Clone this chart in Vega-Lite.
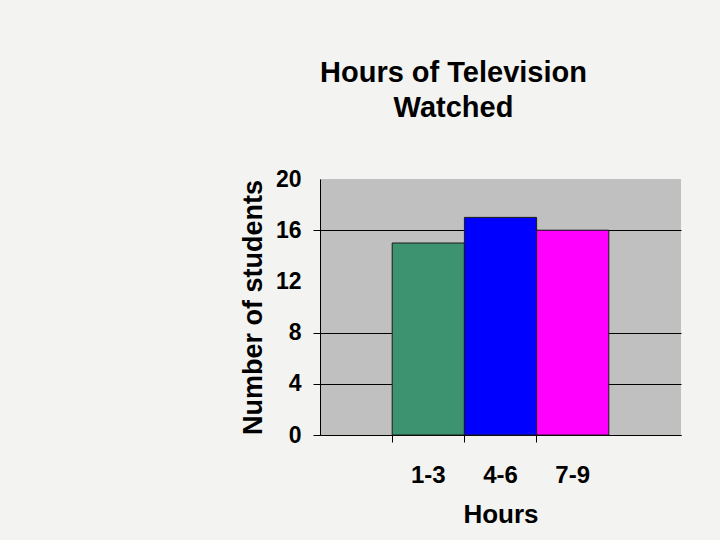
{
  "$schema": "https://vega.github.io/schema/vega-lite/v6.json",
  "autosize": "none",
  "width": 361,
  "height": 256,
  "padding": {"left": 320, "top": 179, "right": 39, "bottom": 105},
  "background": "#f3f3f1",
  "title": {
    "text": ["Hours of Television", "Watched"],
    "fontSize": 29,
    "font": "Liberation Sans",
    "fontWeight": "bold",
    "color": "#000000",
    "anchor": "middle",
    "frame": "group",
    "dx": -47,
    "offset": 45,
    "lineHeight": 35
  },
  "config": {
    "view": {"fill": "#c0c0c0", "stroke": null},
    "font": "Liberation Sans"
  },
  "data": {
    "values": [
      {"hours": "1-3", "students": 15},
      {"hours": "4-6", "students": 17},
      {"hours": "7-9", "students": 16}
    ]
  },
  "mark": {"type": "bar", "stroke": "#1a1a1a", "strokeWidth": 1},
  "encoding": {
    "x": {
      "field": "hours",
      "type": "nominal",
      "scale": {"domain": ["1-3", "4-6", "7-9"], "paddingInner": 0, "paddingOuter": 1},
      "axis": {
        "title": "Hours",
        "titleFontSize": 26,
        "titleFontWeight": "bold",
        "titleColor": "#000000",
        "titlePadding": 14,
        "labelFontSize": 24,
        "labelFontWeight": "bold",
        "labelColor": "#000000",
        "labelAngle": 0,
        "labelPadding": 21,
        "tickSize": 7,
        "tickColor": "#000000",
        "bandPosition": 0,
        "domainColor": "#000000",
        "domainWidth": 1,
        "grid": false
      }
    },
    "y": {
      "field": "students",
      "type": "quantitative",
      "scale": {"domain": [0, 20], "nice": false},
      "axis": {
        "title": "Number of students",
        "titleFontSize": 27,
        "titleFontWeight": "bold",
        "titleColor": "#000000",
        "titlePadding": 8,
        "values": [0, 4, 8, 12, 16, 20],
        "labelFontSize": 23,
        "labelFontWeight": "bold",
        "labelColor": "#000000",
        "labelPadding": 12,
        "tickSize": 7,
        "tickColor": "#000000",
        "tickOpacity": {"condition": {"test": "datum.value === 12 || datum.value === 20", "value": 0}, "value": 1},
        "domainColor": "#000000",
        "grid": true,
        "gridColor": "#000000",
        "gridOpacity": {"condition": {"test": "datum.value === 12 || datum.value === 20", "value": 0}, "value": 1}
      }
    },
    "color": {
      "field": "hours",
      "type": "nominal",
      "scale": {"domain": ["1-3", "4-6", "7-9"], "range": ["#3d9370", "#0000ff", "#ff00ff"]},
      "legend": null
    }
  }
}
